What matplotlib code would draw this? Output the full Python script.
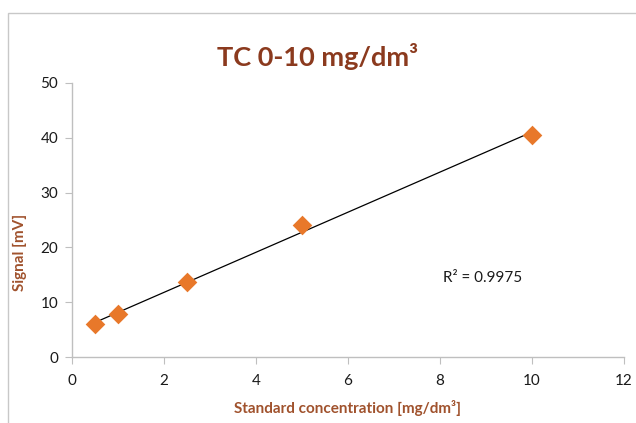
import numpy as np
import matplotlib
matplotlib.use("Agg")
import matplotlib.pyplot as plt
from matplotlib.patches import Rectangle

plt.rcParams['font.family'] = ['Lato', 'DejaVu Sans']

concentration = [0.5, 1.0, 2.5, 5.0, 10.0]
signal = [6.0, 7.8, 13.6, 24.0, 40.5]
x_ticks = [0, 2, 4, 6, 8, 10, 12]
y_ticks = [0, 10, 20, 30, 40, 50]
r2_label = "R² = 0.9975"

W, H = 636, 423
fig = plt.figure(figsize=(W/100, H/100), dpi=100)
fig.patch.set_facecolor('white')

# chart frame
fig.patches.append(Rectangle((8/W, -0.1), 1.2, 1 - 13/H + 0.1, transform=fig.transFigure,
                             fill=False, edgecolor='#C8C8C8', linewidth=1.0))

ax = fig.add_axes([72/W, 1 - 357/H, (624-72)/W, (357-83)/H])
ax.set_xlim(0, 12)
ax.set_ylim(0, 50)
ax.set_xticks(x_ticks)
ax.set_yticks(y_ticks)
for s in ['top', 'right']:
    ax.spines[s].set_visible(False)
for s in ['left', 'bottom']:
    ax.spines[s].set_color('#BFBFBF')
    ax.spines[s].set_linewidth(1.0)
ax.tick_params(direction='out', length=5, color='#BFBFBF', labelsize=11, labelcolor='#1a1a1a')
ax.tick_params(axis='x', pad=7)
ax.tick_params(axis='y', pad=5)

coef = np.polyfit(concentration, signal, 1)
xs = np.array([min(concentration), max(concentration)])
ax.plot(xs, np.polyval(coef, xs), color='black', linewidth=0.9, zorder=2)
ax.scatter(concentration, signal, marker='D', s=100, color='#E8782A', zorder=3, linewidths=0)

ax.text(0.672, 0.287, r2_label, transform=ax.transAxes, fontsize=11, color='#1a1a1a',
        ha='left', va='center')

fig.text(318/W, 1 - 57/H, "TC 0-10 mg/dm³", ha='center', va='center', fontsize=19.5,
         fontweight='bold', color='#8B3A1E')
ax.set_xlabel("Standard concentration [mg/dm³]", fontsize=11, fontweight='bold',
              color='#A0522D')
ax.xaxis.set_label_coords(0.5, -(408 - 357) / 274, transform=ax.transAxes)
ax.set_ylabel("Signal [mV]", fontsize=11, fontweight='bold', color='#A0522D')
ax.yaxis.set_label_coords((20 - 72) / 552, (357 - 252) / 274, transform=ax.transAxes)
ax.xaxis.label.set_va('center')
ax.yaxis.label.set_va('center')

fig.savefig("out.png", dpi=100)
